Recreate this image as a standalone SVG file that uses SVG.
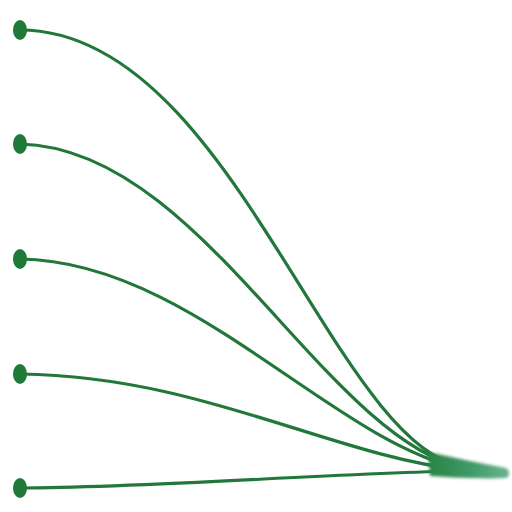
<svg xmlns="http://www.w3.org/2000/svg" width="512" height="512" viewBox="0 0 512 512">
<style>
.c{fill:none;stroke:#22783a;stroke-width:3.2;stroke-linecap:round}
.d{fill:#1f7a3a}
</style>
<defs>
<linearGradient id="tg" x1="430" y1="0" x2="510" y2="0" gradientUnits="userSpaceOnUse">
<stop offset="0" stop-color="#2a8446"/>
<stop offset="0.5" stop-color="#3f9868"/>
<stop offset="1" stop-color="#5aac84" stop-opacity="0.9"/>
</linearGradient>
<filter id="bl" x="-20%" y="-50%" width="140%" height="200%"><feGaussianBlur stdDeviation="1.4"/></filter>
</defs>
<g id="connectors">
<path class="c" d="M20,30 C230,30 330,440 462,467"/>
<path class="c" d="M20,144 C200,148 320,432 462,468"/>
<path class="c" d="M20,259 C190,261 330,440 462,469"/>
<path class="c" d="M20,374 C200,376 330,455 462,470"/>
<path class="c" d="M20,488 C150,488 330,473 462,471"/>
<path id="tail" d="M428,452 C455,458 480,463 506,468 C510,470 510,477 506,478 C485,479 460,478 430,476 Z" fill="url(#tg)" filter="url(#bl)"/>
</g>
<g id="n1"><ellipse class="d" cx="20" cy="30" rx="7" ry="10"/></g>
<g id="n2"><ellipse class="d" cx="20" cy="144" rx="7" ry="10"/></g>
<g id="n3"><ellipse class="d" cx="20" cy="259" rx="7" ry="10"/></g>
<g id="n4"><ellipse class="d" cx="20" cy="374" rx="7" ry="10"/></g>
<g id="n5"><ellipse class="d" cx="20" cy="488" rx="7" ry="10"/></g>
</svg>
